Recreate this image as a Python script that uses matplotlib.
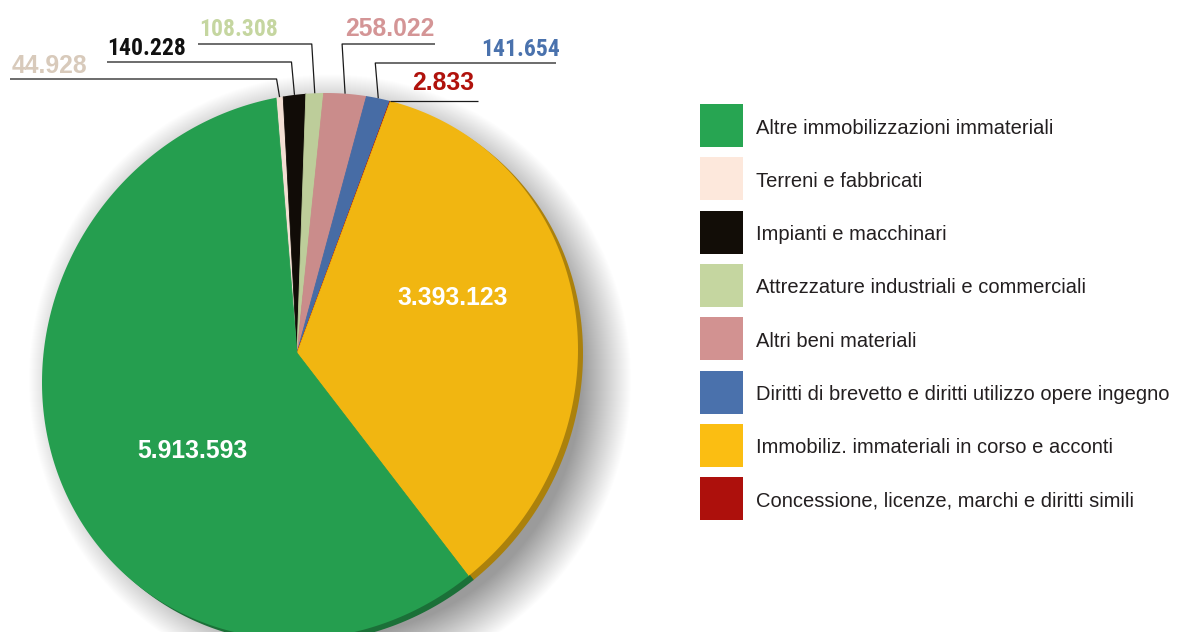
import numpy as np
import matplotlib
matplotlib.use("Agg")
import matplotlib.pyplot as plt
from matplotlib.patches import Ellipse, Rectangle
from matplotlib.path import Path
from matplotlib.colors import to_rgb
from matplotlib import font_manager as fm

# ---------------- data ----------------
categories = [
    "Altre immobilizzazioni immateriali",
    "Terreni e fabbricati",
    "Impianti e macchinari",
    "Attrezzature industriali e commerciali",
    "Altri beni materiali",
    "Diritti di brevetto e diritti utilizzo opere ingegno",
    "Immobiliz. immateriali in corso e acconti",
    "Concessione, licenze, marchi e diritti simili",
]
values = [5913593, 44928, 140228, 108308, 258022, 141654, 3393123, 2833]
colors = ["#27a552", "#fde8dc", "#120d07", "#c5d6a0",
          "#d29291", "#4a71ac", "#fbbe12", "#ad100c"]
label_colors = ["#ffffff", "#d8cabb", "#111111", "#c5d6a0",
                "#d49596", "#4a72ad", "#ffffff", "#b0120c"]
# clockwise order of slices in the pie (starting near the top)
pie_order = [1, 2, 3, 4, 5, 7, 6, 0]


def fmt(v):
    return f"{v:,}".replace(",", ".")


def has_font(name):
    try:
        fm.findfont(fm.FontProperties(family=name), fallback_to_default=False)
        return True
    except Exception:
        return False


BASE = "Liberation Sans"
NARROW = None
for cand in ["Liberation Sans Narrow", "Roboto Condensed", "Open Sans Condensed",
             "Noto Sans Condensed", "Arial Narrow"]:
    if has_font(cand):
        NARROW = cand
        break
plt.rcParams["font.family"] = [BASE, "DejaVu Sans"]

W, H = 1178, 632
fig = plt.figure(figsize=(W / 100, H / 100), dpi=100)
ax = fig.add_axes([0, 0, 1, 1])

# geometry (pixels)
VX, VY = 297, 353                    # common vertex of the slices
EX, EY, RX, RY, SK = 310, 366, 268, 272.5, 16.5   # skewed (tilted) outline
START = 265.3
DX, DY = 5, 4                        # depth offset


def outline(cx, cy):
    t = np.linspace(0, 2 * np.pi, 400)
    xs = cx + RX * np.cos(t)
    ys = cy - SK * np.cos(t) + RY * np.sin(t)
    return Path(np.column_stack([xs, ys]), closed=True)


# soft shadow
for k in np.arange(-10, 40):
    ax.add_patch(Ellipse((EX + 20, EY + 14), 2 * (RX - 6 + k), 2 * (RY - 6 + k),
                         facecolor="black", edgecolor="none", alpha=0.009, zorder=1))

ordered_vals = [values[i] for i in pie_order]


def darken(c, f):
    r, g, b = to_rgb(c)
    return (r * f, g * f, b * f)


# depth layer
dark_cols = [darken(colors[i], 0.68) for i in pie_order]
wd, _ = ax.pie(ordered_vals, colors=dark_cols, center=(VX + DX, VY + DY), radius=420,
               startangle=START, counterclock=True, frame=True,
               wedgeprops=dict(linewidth=0.6))
clip_d = outline(EX + DX, EY + DY)
for w in wd:
    w.set_edgecolor(w.get_facecolor())
    w.set_clip_on(True)
    w.set_clip_path(clip_d, ax.transData)
    w.set_zorder(2)

# main pie
pie_cols = [darken(colors[i], 0.96) for i in pie_order]
wm, _ = ax.pie(ordered_vals, colors=pie_cols, center=(VX, VY), radius=420,
               startangle=START, counterclock=True, frame=True,
               wedgeprops=dict(linewidth=0.6))
clip_m = outline(EX, EY)
for w in wm:
    w.set_edgecolor(w.get_facecolor())
    w.set_clip_on(True)
    w.set_clip_path(clip_m, ax.transData)
    w.set_zorder(3)


def to_unit(x, y):
    c = (x - EX) / RX
    return np.array([c, (y - EY + SK * c) / RY])


def ray_to_edge(theta):
    d = np.array([np.cos(np.radians(theta)), np.sin(np.radians(theta))])
    p = to_unit(VX, VY)
    q = to_unit(VX + d[0], VY + d[1]) - p
    a, b, c = q @ q, 2 * p @ q, p @ p - 1
    t = (-b + np.sqrt(b * b - 4 * a * c)) / (2 * a)
    return VX + t * d[0], VY + t * d[1]


# outside labels layout: text x, text baseline, line y, far end of line, narrow font
layout = {
    1: dict(tx=12, ty=73, ly=79, far=10, narrow=False),
    2: dict(tx=107, ty=55, ly=62, far=107, narrow=True),
    3: dict(tx=199, ty=36, ly=44, far=198, narrow=True),
    4: dict(tx=345, ty=36, ly=44, far=435, narrow=False),
    5: dict(tx=481, ty=56, ly=63, far=556, narrow=True),
    7: dict(tx=412, ty=90, ly=None, far=478, narrow=False),
}
for pos, idx in enumerate(pie_order):
    if idx not in layout:
        continue
    L = layout[idx]
    w = wm[pos]
    mid = 0.5 * (w.theta1 + w.theta2)
    ex, ey = ray_to_edge(mid)
    if L["ly"] is None:
        xs, ys = [ex, L["far"]], [ey, ey]
    else:
        xs, ys = [L["far"], ex - 3, ex], [L["ly"], L["ly"], ey]
    ax.plot(xs, ys, color="#1a1a1a", lw=0.9, zorder=5, solid_capstyle="butt")
    if L["narrow"] and NARROW:
        fam, size = NARROW, 17.0
    elif L["narrow"]:
        fam, size = BASE, 16.0
    else:
        fam, size = BASE, 17.8
    ax.text(L["tx"], L["ty"], fmt(values[idx]), color=label_colors[idx],
            fontsize=size, fontweight="bold", ha="left", va="baseline",
            family=[fam, "DejaVu Sans"], zorder=6)

# inner labels
ax.text(192, 458, fmt(values[0]), color=label_colors[0], fontsize=17.8,
        fontweight="bold", ha="center", va="baseline", zorder=6)
ax.text(453, 305, fmt(values[6]), color=label_colors[6], fontsize=17.8,
        fontweight="bold", ha="center", va="baseline", zorder=6)

# legend
for i, (cat, col) in enumerate(zip(categories, colors)):
    y0 = 104 + i * 53.3
    ax.add_patch(Rectangle((700, y0), 43, 43, facecolor=col, edgecolor="none", zorder=4))
    ax.text(756, y0 + 29.5, cat, fontsize=14.5, color="#231f20",
            ha="left", va="baseline", zorder=4)

ax.set_xlim(0, W)
ax.set_ylim(H, 0)
ax.set_aspect("auto")
ax.axis("off")
fig.savefig("out.png", dpi=100, facecolor="white")
